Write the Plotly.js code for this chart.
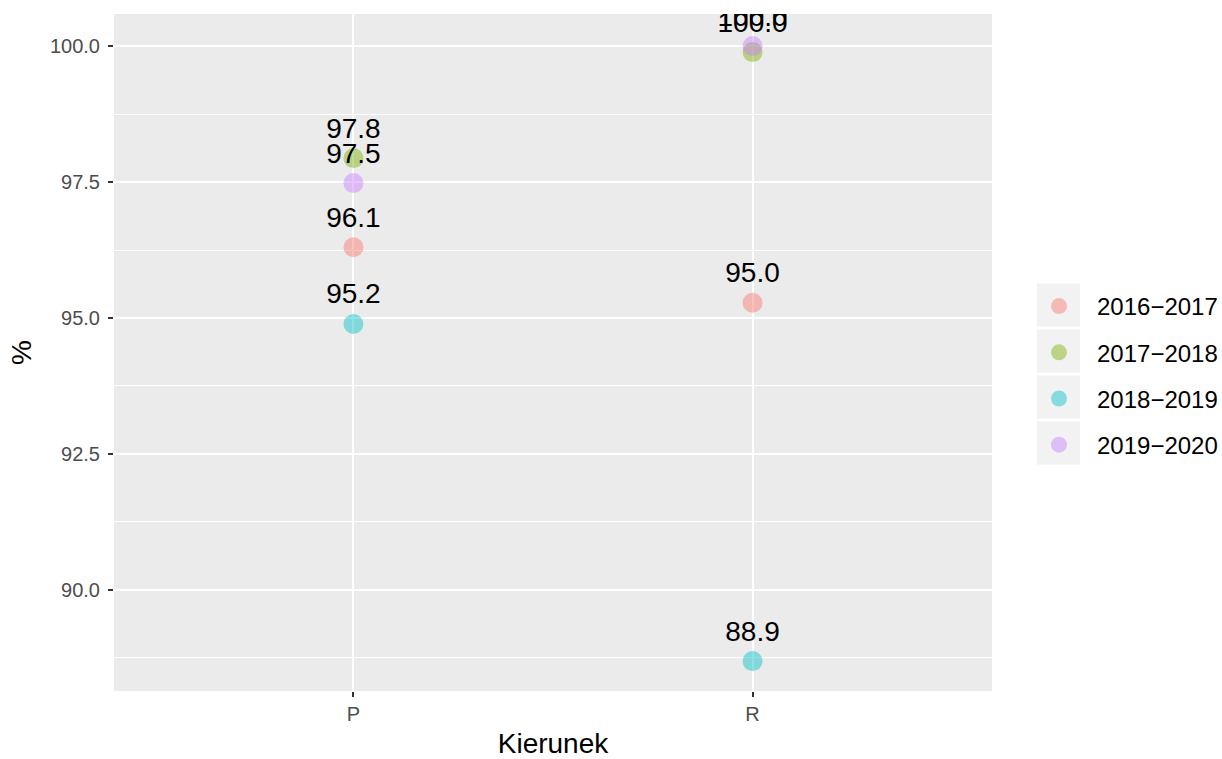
<!DOCTYPE html>
<html>
<head>
<meta charset="utf-8">
<script src="https://cdn.plot.ly/plotly-3.0.1.min.js"></script>
<style>html,body{margin:0;padding:0;background:#fff;}#chart{width:1222px;height:759px;}</style>
</head>
<body>
<div id="chart"></div>
<script>
// ---- data ----
var categories = ['P', 'R'];
var seasons = ['2016\u22122017', '2017\u22122018', '2018\u22122019', '2019\u22122020'];
var values2016 = [96.30, 95.28];
var values2017 = [97.94, 99.89];
var values2018 = [94.89, 88.69];
var values2019 = [97.48, 100.00];
var labels2016 = ['96.1', '95.0'];
var labels2017 = ['97.8', '100.0'];
var labels2018 = ['95.2', '88.9'];
var labels2019 = ['97.5', '100.0'];
var yTicks = [90.0, 92.5, 95.0, 97.5, 100.0];

var colors = ['#F8766D', '#7CAE00', '#00BFC4', '#C77CFF'];
var seriesValues = [values2016, values2017, values2018, values2019];
var seriesLabels = [labels2016, labels2017, labels2018, labels2019];

var FONT = 'Liberation Sans, Arial, Helvetica, sans-serif';

var traces = [];
seriesValues.forEach(function (vals, i) {
  traces.push({
    type: 'scatter', mode: 'markers',
    x: categories, y: vals,
    name: seasons[i], legendgroup: seasons[i],
    marker: { size: 20, color: colors[i], opacity: 0.45, line: { width: 0 } },
    hoverinfo: 'skip'
  });
});
seriesValues.forEach(function (vals, i) {
  traces.push({
    type: 'scatter', mode: 'markers+text',
    x: categories, y: vals, text: seriesLabels[i],
    textposition: 'top center',
    textfont: { family: FONT, size: 28, color: '#000000' },
    marker: { size: 20, color: 'rgba(0,0,0,0)' },
    showlegend: false, hoverinfo: 'skip'
  });
});

// pixel helpers for the legend key boxes
var W = 1222, H = 759;
var L = 114, R = 992, T = 14, B = 691;
function px2x(p) { return (p - L) / (R - L); }
function px2y(p) { return (B - p) / (B - T); }
var shapes = [];
[305, 351, 397, 443].forEach(function (c) {
  shapes.push({
    type: 'rect', xref: 'paper', yref: 'paper', layer: 'below',
    x0: px2x(1037), x1: px2x(1080), y0: px2y(c + 21.5), y1: px2y(c - 21.5),
    fillcolor: '#F2F2F2', line: { width: 0 }
  });
});

var layout = {
  width: W, height: H,
  margin: { l: L, r: W - R, t: T, b: H - B },
  paper_bgcolor: '#FFFFFF', plot_bgcolor: '#EBEBEB',
  font: { family: FONT, color: '#000000' },
  showlegend: true,
  legend: {
    xref: 'container', x: 1021 / W, xanchor: 'left',
    yref: 'paper', y: px2y(284), yanchor: 'top',
    font: { family: FONT, size: 24, color: '#000000' },
    bgcolor: 'rgba(0,0,0,0)', tracegroupgap: 12, traceorder: 'grouped',
    itemsizing: 'trace', itemwidth: 66
  },
  xaxis: {
    type: 'category', categoryorder: 'array', categoryarray: categories,
    range: [-0.6, 1.6], showgrid: true, gridcolor: '#FFFFFF', gridwidth: 2,
    zeroline: false, showline: false,
    ticks: 'outside', ticklen: 5, tickwidth: 2, tickcolor: '#333333',
    tickfont: { family: FONT, size: 20, color: '#4D4D4D' },
    title: { text: 'Kierunek', font: { family: FONT, size: 28, color: '#000000' }, standoff: 11 }
  },
  yaxis: {
    range: [88.14, 100.59], tickmode: 'array', tickvals: yTicks,
    ticktext: yTicks.map(function (v) { return v.toFixed(1); }),
    showgrid: true, gridcolor: '#FFFFFF', gridwidth: 2,
    zeroline: false, showline: false,
    ticks: 'outside', ticklen: 5, tickwidth: 2, tickcolor: '#333333',
    ticklabelstandoff: 4,
    tickfont: { family: FONT, size: 20, color: '#4D4D4D' },
    minor: { tickmode: 'linear', tick0: 0, dtick: 1.25, showgrid: true, gridcolor: '#FFFFFF', gridwidth: 1, ticks: '' },
    title: { text: '%', font: { family: FONT, size: 28, color: '#000000' }, standoff: 10 }
  },
  shapes: shapes
};

Plotly.newPlot('chart', traces, layout, { displayModeBar: false, staticPlot: true });
</script>
</body>
</html>
